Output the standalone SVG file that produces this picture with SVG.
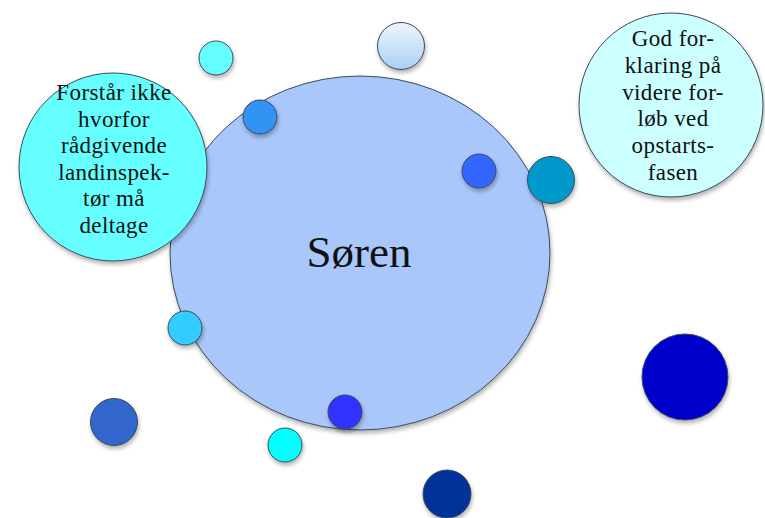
<svg xmlns="http://www.w3.org/2000/svg" width="765" height="518" viewBox="0 0 765 518">
<defs>
<filter id="sh" x="-20%" y="-20%" width="150%" height="150%">
<feDropShadow dx="1" dy="3" stdDeviation="2" flood-color="#000" flood-opacity="0.3"/>
</filter>
<linearGradient id="lg" x1="0" y1="0" x2="0" y2="1">
<stop offset="0" stop-color="#EEF5FC"/>
<stop offset="1" stop-color="#A9D0F5"/>
</linearGradient>
</defs>
<style>
circle, ellipse { stroke: #3a4a5a; stroke-width: 1; filter: url(#sh); }
text { font-family: "Liberation Serif", "Times New Roman", serif; fill: #111; text-anchor: middle; }
.t { font-size: 23px; letter-spacing: 0.4px; }
</style>
<rect width="765" height="518" fill="#fff"/>
<g id="main"><ellipse cx="360" cy="253" rx="190" ry="177" fill="#A9C7FA"/><text x="359" y="267" font-size="45">Søren</text></g>
<g id="n-forstaar"><circle cx="113" cy="167" r="94" fill="#66FFFF"/>
<text class="t"><tspan x="114" y="100">Forstår ikke</tspan><tspan x="114" y="127">hvorfor</tspan><tspan x="114" y="153">rådgivende</tspan><tspan x="114" y="180">landinspek-</tspan><tspan x="114" y="206">tør må</tspan><tspan x="114" y="233">deltage</tspan></text></g>
<g id="n-god"><circle cx="671" cy="105" r="92" fill="#CCFFFF"/>
<text class="t"><tspan x="673" y="46">God for-</tspan><tspan x="673" y="73">klaring på</tspan><tspan x="673" y="100">videre for-</tspan><tspan x="673" y="126">løb ved</tspan><tspan x="673" y="153">opstarts-</tspan><tspan x="673" y="180">fasen</tspan></text></g>
<g id="c1"><circle cx="216" cy="58" r="17" fill="#66FFFF"/></g>
<g id="c2"><circle cx="401" cy="46" r="23.5" fill="url(#lg)"/></g>
<g id="c3"><circle cx="260" cy="117" r="17" fill="#3393F5"/></g>
<g id="c4"><circle cx="479" cy="171" r="17" fill="#3366FF"/></g>
<g id="c5"><circle cx="551" cy="180" r="23.5" fill="#0099CC"/></g>
<g id="c6"><circle cx="185" cy="328" r="17" fill="#33CCFF"/></g>
<g id="c7"><circle cx="114" cy="422" r="23.5" fill="#3366CC"/></g>
<g id="c8"><circle cx="345" cy="412" r="17" fill="#3333FF"/></g>
<g id="c9"><circle cx="285" cy="445" r="17" fill="#00FFFF"/></g>
<g id="c10"><circle cx="447" cy="494" r="24" fill="#003399"/></g>
<g id="c11"><circle cx="685" cy="377" r="43" fill="#0000CC"/></g>
<g id="connectors"></g>
</svg>
